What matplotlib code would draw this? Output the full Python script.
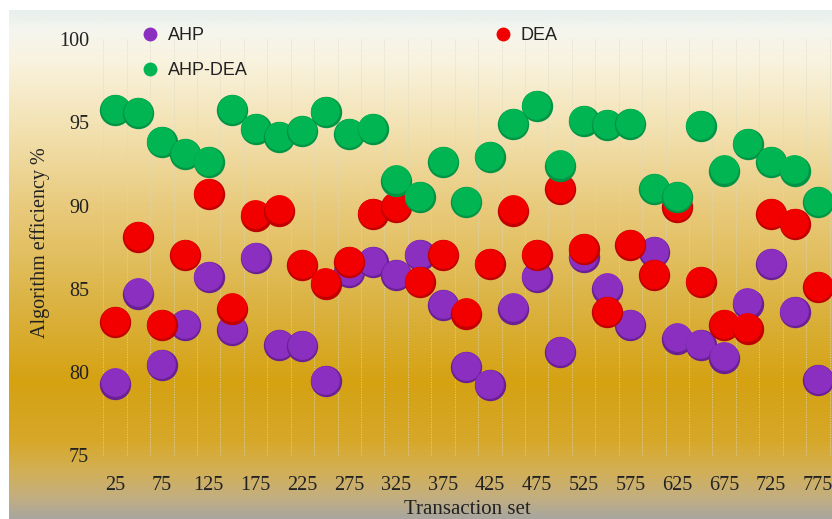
import numpy as np
import matplotlib
matplotlib.use('Agg')
import matplotlib.pyplot as plt
import matplotlib.transforms as mtransforms
from matplotlib.colors import LinearSegmentedColormap
from matplotlib.lines import Line2D

# データ
transaction_set = list(range(25, 800, 25))
ahp = [79.3, 84.7, 80.4, 82.8, 85.7, 82.5, 86.85, 81.6, 81.55, 79.45,
       86.0, 86.6, 85.8, 87.0, 84.0, 80.3, 79.2, 83.8, 85.7, 81.2,
       86.9, 85.0, 82.8, 87.2, 82.0, 81.6, 80.85, 84.1, 86.5, 83.6, 79.5]
dea = [83.0, 88.1, 82.8, 87.0, 90.7, 83.8, 89.4, 89.7, 86.4, 85.3,
       86.6, 89.5, 89.9, 85.4, 87.0, 83.5, 86.5, 89.7, 87.0, 91.0,
       87.4, 83.6, 87.6, 85.8, 89.9, 85.4, 82.8, 82.6, 89.5, 88.9, 85.1]
ahp_dea = [95.75, 95.57, 93.8, 93.1, 92.6, 95.75, 94.6, 94.1, 94.5, 95.6,
           94.3, 94.6, 91.5, 90.5, 92.6, 90.2, 92.9, 94.9, 96.0, 92.4,
           95.1, 94.85, 94.9, 91.0, 90.5, 94.8, 92.1, 93.7, 92.6, 92.1, 90.2]
y_ticks = [75, 80, 85, 90, 95, 100]
x_ticks = list(range(25, 800, 50))

W, H = 832, 519
fig = plt.figure(figsize=(W / 100, H / 100), dpi=100, facecolor='white')

# 背景のグラデーション
bg = fig.add_axes([9 / W, 0, 1 - 9 / W, 1 - 10 / H])
bg.set_axis_off()
stops = [(0.00, '#e8efee'), (0.04, '#f6f6ee'), (0.10, '#f9f2de'),
         (0.22, '#f3e3b5'), (0.38, '#e9cb7e'), (0.57, '#dcb445'),
         (0.73, '#d5a212'), (0.85, '#d7a82a'), (0.91, '#d2b058'),
         (0.96, '#c3ae80'), (1.00, '#a8a69e')]
cmap = LinearSegmentedColormap.from_list('bg', stops)
grad = np.linspace(0, 1, 512).reshape(-1, 1)
bg.imshow(grad, aspect='auto', cmap=cmap, extent=[0, 1, 1, 0])
bg.set_xlim(0, 1)
bg.set_ylim(1, 0)

ax = fig.add_axes([100 / W, (H - 470) / H, (W - 100) / W, 450 / H])
ax.set_facecolor('none')
ax.set_xlim(9, 790)
ax.set_ylim(74.1, 101.16)
for s in ax.spines.values():
    s.set_visible(False)

# 縦のグリッド線（カテゴリの境界）
for gx in np.arange(12.5, 800, 25):
    ax.vlines(gx, 75, 100, color='#d6d9c6', lw=0.6, ls=(0, (1.5, 1.5)),
              alpha=0.8, zorder=1)

# 立体感のある球
def draw_balls(xs, ys, light, dark, z):
    hi = mtransforms.offset_copy(ax.transData, fig=fig, x=-0.3, y=0.9, units='points')
    for x, y in zip(xs, ys):
        ax.scatter(x, y, s=510, color=dark, lw=0, zorder=z, clip_on=False)
        ax.scatter(x, y, s=430, color=light, lw=0, zorder=z, clip_on=False,
                   transform=hi)

draw_balls(transaction_set, ahp, '#8a2fbf', '#6a2094', 3)
draw_balls(transaction_set, dea, '#f20000', '#c00000', 4)
draw_balls(transaction_set, ahp_dea, '#00b552', '#009444', 5)

ax.set_yticks(y_ticks)
ax.set_xticks(x_ticks)
ax.tick_params(length=0, labelsize=14.5, colors='#222222')
ax.tick_params(axis='y', pad=8)
ax.tick_params(axis='x', pad=4)
for lbl in ax.get_xticklabels() + ax.get_yticklabels():
    lbl.set_fontfamily('Liberation Serif')

fig.text(40 / W, 1 - 243 / H, 'Algorithm efficiency %', rotation=90,
         ha='center', va='center', fontsize=14.5, family='Liberation Serif',
         color='#222222')
fig.text(467 / W, 1 - 509 / H, 'Transaction set', ha='center', va='center',
         fontsize=15, family='Liberation Serif', color='#222222')

handles = [Line2D([], [], ls='none', marker='o', ms=10, mew=0, color='#8a2fbf'),
           Line2D([], [], ls='none', marker='o', ms=10, mew=0, color='#00b552'),
           Line2D([], [], ls='none', marker='o', ms=10, mew=0, color='#f20000')]
leg = ax.legend(handles, ['AHP', 'AHP-DEA', 'DEA'], ncol=2, frameon=False,
                loc='upper left', bbox_to_anchor=(141 / W, 1 - 27 / H),
                bbox_transform=fig.transFigure, borderpad=0, borderaxespad=0,
                handlelength=1.0, handletextpad=0.5, columnspacing=13.6,
                labelspacing=1.0, prop={'family': 'Liberation Sans', 'size': 13})
for t in leg.get_texts():
    t.set_color('#222222')

fig.savefig('out.png', dpi=100, facecolor='white')
